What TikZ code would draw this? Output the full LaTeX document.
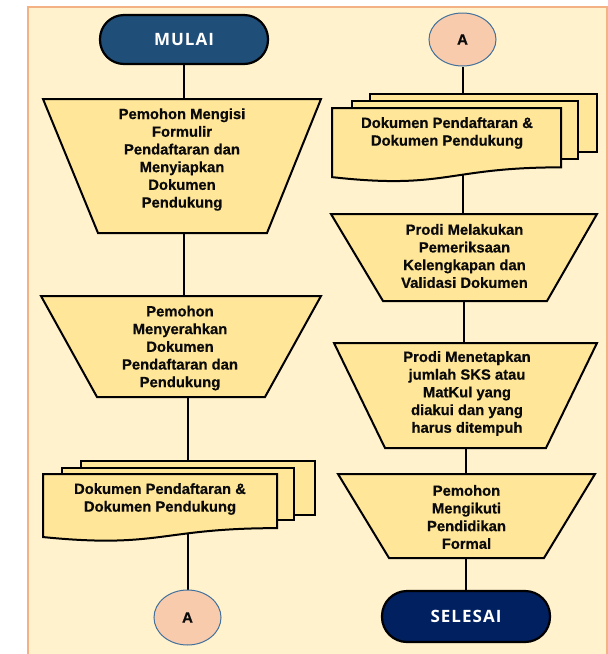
\documentclass[tikz,border=0pt]{standalone}
\usepackage{fontspec}
\setmainfont{Liberation Sans}[BoldFont={Liberation Sans Bold}, BoldFeatures={FakeBold=0.6}]
\newfontfamily\termfont{Open Sans Bold}[LetterSpace=6]
\usetikzlibrary{shapes.geometric,calc}
\definecolor{bgfill}{HTML}{FFF2CC}
\definecolor{bgline}{HTML}{F4B183}
\definecolor{stepcol}{HTML}{FFE699}
\definecolor{mulaicol}{HTML}{1F4E79}
\definecolor{selesaicol}{HTML}{002060}
\definecolor{circfill}{HTML}{F8CBAD}
\definecolor{circline}{HTML}{41719C}
\definecolor{txtcol}{HTML}{0A0A0A}
\pgfdeclarelayer{bglayer}
\pgfdeclarelayer{connlayer}
\pgfdeclarelayer{shapelayer}
\pgfsetlayers{bglayer,connlayer,shapelayer,main}
\newcommand\trapz[3]{\draw[stepfill] (#1.north west) -- (#1.north east) -- ([xshift=-#3]#1.south east) -- ([xshift=#2]#1.south west) -- cycle;}
\newcommand\docpage[1]{\draw[stepfill] (#1.north west) rectangle (#1.south east);}
\newcommand\docfront[1]{\draw[stepfill] (#1.north west) -- (#1.north east) -- ($(#1.north east)!0.802!(#1.south east)$) .. controls ($(#1.north)!0.802!(#1.south)$) and ($(#1.north)!1.1075!(#1.south)$) .. ($(#1.north west)!0.934!(#1.south west)$) -- cycle;}
\begin{document}
\begin{tikzpicture}[x=1pt,y=-1pt,
  box/.style={inner sep=0, outer sep=0},
  stepfill/.style={fill=stepcol, draw=black, line width=2pt, line join=miter},
  txt/.style={font=\fontsize{14.8}{17.7}\selectfont\bfseries, align=center, text=txtcol, inner sep=0},
  conn/.style={draw=black, line width=2pt},
  term/.style={rounded corners=24pt, draw=black, line width=2.2pt, minimum width=168, minimum height=49, inner sep=0, text=white, font=\termfont\fontsize{17}{19}\selectfont},
  circ/.style={ellipse, draw=circline, line width=1pt, fill=circfill, inner sep=0, minimum width=67, text=txtcol, font=\fontsize{15}{17}\selectfont\bfseries}]
\useasboundingbox (0,0) rectangle (608,654);
\begin{pgfonlayer}{bglayer}
\draw[fill=bgfill, draw=bgline, line width=1.5pt] (28,7) rectangle (607,700);
\end{pgfonlayer}
% left column
\node[term, fill=mulaicol] (mulai) at (184,39.5) {MULAI};
\node[box, minimum width=278, minimum height=134] (t1) at (182,166) {};
\node[txt] (t1t) at (182,159.5) {Pemohon Mengisi\\Formulir\\Pendaftaran dan\\Menyiapkan\\Dokumen\\Pendukung};
\node[box, minimum width=280, minimum height=101] (t2) at (181,346.5) {};
\node[txt] (t2t) at (180,348) {Pemohon\\Menyerahkan\\Dokumen\\Pendaftaran dan\\Pendukung};
\node[box, minimum width=234, minimum height=54] (d1b) at (198,488) {};
\node[box, minimum width=232, minimum height=52] (d1m) at (178,494) {};
\node[box, minimum width=234, minimum height=67.5] (d1) at (160,507.75) {};
\node[txt] (d1t) at (160,499) {Dokumen Pendaftaran \&\\Dokumen Pendukung};
\node[circ, minimum height=55] (A1) at (187.5,617.5) {A};
% right column
\node[circ, minimum height=53] (A2) at (462.5,39.5) {A};
\node[box, minimum width=227, minimum height=58] (d2b) at (483.5,123) {};
\node[box, minimum width=226, minimum height=58] (d2m) at (465,130) {};
\node[box, minimum width=229, minimum height=74] (d2) at (446.5,145) {};
\node[txt] (d2t) at (447,133) {Dokumen Pendaftaran \&\\Dokumen Pendukung};
\node[box, minimum width=266, minimum height=87] (t3) at (464,257.5) {};
\node[txt] (t3t) at (464.5,256) {Prodi Melakukan\\Pemeriksaan\\Kelengkapan dan\\Validasi Dokumen};
\node[box, minimum width=263, minimum height=105] (t4) at (465.5,395.5) {};
\node[txt] (t4t) at (467,393.5) {Prodi Menetapkan\\jumlah SKS atau\\MatKul yang\\diakui dan yang\\harus ditempuh};
\node[box, minimum width=257, minimum height=84] (t5) at (466.5,516) {};
\node[txt] (t5t) at (466.5,517) {Pemohon\\Mengikuti\\Pendidikan\\Formal};
\node[term, fill=selesaicol, minimum height=51, rounded corners=25pt] (selesai) at (466,616.5) {SELESAI};
\begin{pgfonlayer}{shapelayer}
\trapz{t1}{55}{54}
\trapz{t2}{56}{56}
\docpage{d1b}
\docpage{d1m}
\docfront{d1}
\docpage{d2b}
\docpage{d2m}
\docfront{d2}
\trapz{t3}{52}{50}
\trapz{t4}{51}{51}
\trapz{t5}{51}{51}
\end{pgfonlayer}
\begin{pgfonlayer}{connlayer}
\draw[conn] (mulai) -- (mulai |- t1);
\draw[conn] (mulai |- t1) -- (mulai |- t2);
\draw[conn] (A1 |- t2) -- (A1);
\draw[conn] (A2) -- (A2 |- t3);
\draw[conn] (t3) -- (t3 |- t4);
\draw[conn] (t4) -- (t4 |- t5);
\draw[conn] (selesai |- t5) -- (selesai);
\end{pgfonlayer}
\end{tikzpicture}
\end{document}
